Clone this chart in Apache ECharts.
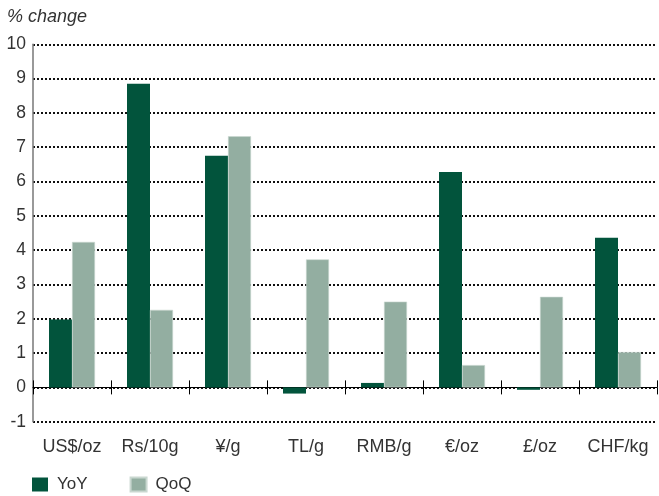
<!DOCTYPE html>
<html>
<head>
<meta charset="utf-8">
<script src="https://cdn.jsdelivr.net/npm/echarts@6/dist/echarts.min.js"></script>
<style>html,body{margin:0;padding:0;background:#fff;}#c{width:659px;height:496px;}</style>
</head>
<body>
<div id="c"></div>
<script>
var categories = ['US$/oz', 'Rs/10g', '¥/g', 'TL/g', 'RMB/g', '€/oz', '£/oz', 'CHF/kg'];
var yoy = [1.98, 8.85, 6.75, -0.18, 0.13, 6.28, -0.07, 4.36];
var qoq = [4.24, 2.26, 7.32, 3.73, 2.50, 0.65, 2.64, 1.03];
var seriesNames = ['YoY', 'QoQ'];
var yTitle = '% change';

var FONT = '"Liberation Sans", Arial, sans-serif';
var TXT = '#333333';
var chart = echarts.init(document.getElementById('c'));
chart.setOption({
  animation: false,
  title: { text: yTitle, left: 7, top: 8, padding: 0, textStyle: { fontFamily: FONT, fontSize: 18, fontStyle: 'italic', fontWeight: 'normal', color: TXT } },
  grid: { left: 33, right: 2, top: 44.3, bottom: 74.3, containLabel: false },
  legend: {
    left: 32, top: 476, padding: 0, itemWidth: 16, itemHeight: 14, itemGap: 42, icon: 'rect',
    data: seriesNames,
    textStyle: { fontFamily: FONT, fontSize: 17, color: TXT, padding: [0, 0, 0, 4] }
  },
  xAxis: [
    { type: 'category', data: categories, position: 'bottom',
      axisLine: { show: false, onZero: false }, axisTick: { show: false },
      axisLabel: { fontFamily: FONT, fontSize: 18, color: TXT, margin: 16, interval: 0, hideOverlap: false }, splitLine: { show: false } },
    { type: 'category', data: categories, position: 'bottom',
      axisLine: { show: true, onZero: true, lineStyle: { color: '#000', width: 1 } },
      axisTick: { show: true, length: 7, lineStyle: { color: '#000', width: 1 } },
      axisLabel: { show: false } },
    { type: 'category', data: categories, position: 'bottom', offset: -34.3,
      axisLine: { show: false, onZero: false },
      axisTick: { show: true, inside: true, length: 7, lineStyle: { color: '#000', width: 1 } },
      axisLabel: { show: false } }
  ],
  yAxis: {
    type: 'value', min: -1, max: 10, interval: 1,
    axisLine: { show: true, lineStyle: { color: '#777', width: 1.5 } },
    axisTick: { show: false },
    axisLabel: { fontFamily: FONT, fontSize: 17.5, color: TXT, margin: 7 },
    splitLine: { show: true, lineStyle: { color: '#111', width: 2, type: [2, 2] } }
  },
  series: [
    { name: seriesNames[0], type: 'bar', data: yoy, xAxisIndex: 0, barWidth: 23, barGap: '0%',
      itemStyle: { color: '#02543c' } },
    { name: seriesNames[1], type: 'bar', data: qoq, xAxisIndex: 0, barWidth: 23, barGap: '0%',
      itemStyle: { color: '#93aea1', borderColor: '#c9d7d0', borderWidth: 0.6 } }
  ]
});
</script>
</body>
</html>
